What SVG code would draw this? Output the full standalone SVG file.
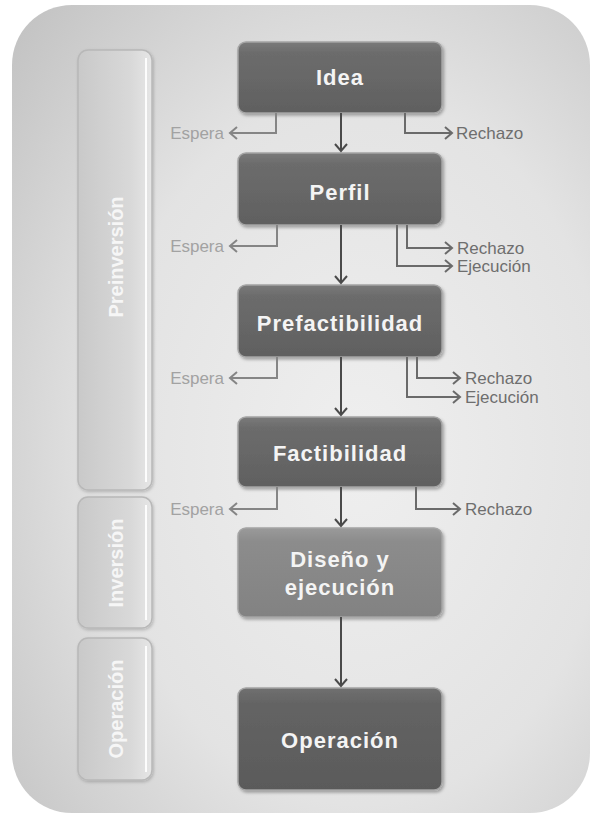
<svg xmlns="http://www.w3.org/2000/svg" width="592" height="820" viewBox="0 0 592 820">
  <style>
    .node-box { stroke: #a4a4a4; stroke-width: 1.5; filter: url(#shadow); }
    .node-text { font-family: "Liberation Sans", Arial, sans-serif; font-weight: bold; font-size: 22px; letter-spacing: 1px; fill: #f4f4f4; text-anchor: middle; }
    .phase-box { fill: url(#phaseGrad); stroke: #b8b8b8; stroke-width: 1.5; filter: url(#shadow2); }
    .phase-hl { fill: none; stroke: #ffffff; stroke-width: 2; opacity: 0.9; }
    .phase-text { font-family: "Liberation Sans", Arial, sans-serif; font-weight: bold; font-size: 20px; fill: #f6f6f6; text-anchor: middle; }
    .main { fill: none; stroke: #4a4a4a; stroke-width: 2; marker-end: url(#arrDark); }
    .side { fill: none; stroke: #6a6a6a; stroke-width: 2; marker-end: url(#arrMid); }
    .wait { fill: none; stroke: #858585; stroke-width: 2; marker-end: url(#arrLight); }
    .lbl { font-family: "Liberation Sans", Arial, sans-serif; font-size: 17px; fill: #6e6e6e; }
    .lbl-wait { font-family: "Liberation Sans", Arial, sans-serif; font-size: 17px; fill: #a2a2a2; text-anchor: end; }
  </style>
  <defs>
    <radialGradient id="bgGrad" cx="0.6" cy="0.55" r="0.8">
      <stop offset="0" stop-color="#efefef"/>
      <stop offset="0.55" stop-color="#e3e3e3"/>
      <stop offset="1" stop-color="#c2c2c2"/>
    </radialGradient>
    <linearGradient id="nodeGrad" x1="0" y1="0" x2="0" y2="1">
      <stop offset="0" stop-color="#7a7a7a"/>
      <stop offset="0.15" stop-color="#6c6c6c"/>
      <stop offset="1" stop-color="#606060"/>
    </linearGradient>
    <linearGradient id="nodeGradLight" x1="0" y1="0" x2="0" y2="1">
      <stop offset="0" stop-color="#9a9a9a"/>
      <stop offset="0.15" stop-color="#8c8c8c"/>
      <stop offset="1" stop-color="#828282"/>
    </linearGradient>
    <linearGradient id="nodeGradDark" x1="0" y1="0" x2="0" y2="1">
      <stop offset="0" stop-color="#707070"/>
      <stop offset="0.15" stop-color="#646464"/>
      <stop offset="1" stop-color="#5a5a5a"/>
    </linearGradient>
    <linearGradient id="phaseGrad" x1="0" y1="0" x2="1" y2="0">
      <stop offset="0" stop-color="#c9c9c9"/>
      <stop offset="0.7" stop-color="#d8d8d8"/>
      <stop offset="1" stop-color="#e6e6e6"/>
    </linearGradient>
    <filter id="shadow" x="-10%" y="-10%" width="125%" height="130%">
      <feDropShadow dx="1.5" dy="2" stdDeviation="1.5" flood-color="#000" flood-opacity="0.3"/>
    </filter>
    <filter id="shadow2" x="-10%" y="-5%" width="130%" height="115%">
      <feDropShadow dx="1" dy="1.5" stdDeviation="1.5" flood-color="#000" flood-opacity="0.2"/>
    </filter>
    <marker id="arrDark" markerUnits="userSpaceOnUse" markerWidth="16" markerHeight="16" viewBox="-10 -8 12 16" refX="0" refY="0" orient="auto">
      <path d="M-7,-6 L0,0 L-7,6" fill="none" stroke="#4a4a4a" stroke-width="2"/>
    </marker>
    <marker id="arrMid" markerUnits="userSpaceOnUse" markerWidth="16" markerHeight="16" viewBox="-10 -8 12 16" refX="0" refY="0" orient="auto">
      <path d="M-7,-6 L0,0 L-7,6" fill="none" stroke="#6a6a6a" stroke-width="2"/>
    </marker>
    <marker id="arrLight" markerUnits="userSpaceOnUse" markerWidth="16" markerHeight="16" viewBox="-10 -8 12 16" refX="0" refY="0" orient="auto">
      <path d="M-7,-6 L0,0 L-7,6" fill="none" stroke="#858585" stroke-width="2"/>
    </marker>
  </defs>

  <rect x="0" y="0" width="592" height="820" fill="#ffffff"/>
  <rect id="background" x="12" y="5" width="578" height="808" rx="60" ry="60" fill="url(#bgGrad)"/>

  <!-- Phase bars -->
  <g id="phase-preinversion">
    <rect class="phase-box" x="78" y="50" width="74" height="440" rx="10"/>
    <path class="phase-hl" d="M146,58 V482"/>
    <text class="phase-text" transform="translate(123,257) rotate(-90)">Preinversión</text>
  </g>
  <g id="phase-inversion">
    <rect class="phase-box" x="78" y="497" width="74" height="131" rx="10"/>
    <path class="phase-hl" d="M146,505 V620"/>
    <text class="phase-text" transform="translate(123,563) rotate(-90)">Inversión</text>
  </g>
  <g id="phase-operacion">
    <rect class="phase-box" x="78" y="638" width="74" height="142" rx="10"/>
    <path class="phase-hl" d="M146,646 V772"/>
    <text class="phase-text" transform="translate(123,709) rotate(-90)">Operación</text>
  </g>

  <!-- Nodes -->
  <g id="idea">
    <rect class="node-box" x="238" y="42" width="204" height="71" rx="8" fill="url(#nodeGrad)"/>
    <text class="node-text" x="340" y="85">Idea</text>
  </g>
  <g id="perfil">
    <rect class="node-box" x="238" y="153" width="204" height="72" rx="8" fill="url(#nodeGrad)"/>
    <text class="node-text" x="340" y="200">Perfil</text>
  </g>
  <g id="prefactibilidad">
    <rect class="node-box" x="238" y="285" width="204" height="72" rx="8" fill="url(#nodeGrad)"/>
    <text class="node-text" x="340" y="331">Prefactibilidad</text>
  </g>
  <g id="factibilidad">
    <rect class="node-box" x="238" y="417" width="204" height="70" rx="8" fill="url(#nodeGrad)"/>
    <text class="node-text" x="340" y="461">Factibilidad</text>
  </g>
  <g id="diseno">
    <rect class="node-box" x="238" y="528" width="204" height="89" rx="8" fill="url(#nodeGradLight)"/>
    <text class="node-text" x="340" y="567">Diseño y</text>
    <text class="node-text" x="340" y="595">ejecución</text>
  </g>
  <g id="operacion">
    <rect class="node-box" x="238" y="688" width="204" height="102" rx="8" fill="url(#nodeGradDark)"/>
    <text class="node-text" x="340" y="748">Operación</text>
  </g>

  <!-- Connectors -->
  <g id="connectors">
    <path class="main" d="M341,113 V151"/>
    <path class="wait" d="M276,113 V133 H230"/>
    <path class="side" d="M405,113 V133 H452"/>

    <path class="main" d="M341,225 V283"/>
    <path class="wait" d="M277,225 V246 H230"/>
    <path class="side" d="M407,225 V248 H452"/>
    <path class="side" d="M397,225 V266 H452"/>

    <path class="main" d="M341,357 V415"/>
    <path class="wait" d="M277,357 V378 H230"/>
    <path class="side" d="M417,357 V378 H460"/>
    <path class="side" d="M407,357 V397 H460"/>

    <path class="main" d="M341,487 V526"/>
    <path class="wait" d="M277,487 V509 H230"/>
    <path class="side" d="M416,487 V509 H460"/>

    <path class="main" d="M341,617 V686"/>
  </g>

  <!-- Connector labels -->
  <g id="labels">
    <text class="lbl-wait" x="224" y="139">Espera</text>
    <text class="lbl" x="456" y="139">Rechazo</text>

    <text class="lbl-wait" x="224" y="252">Espera</text>
    <text class="lbl" x="457" y="254">Rechazo</text>
    <text class="lbl" x="457" y="272">Ejecución</text>

    <text class="lbl-wait" x="224" y="384">Espera</text>
    <text class="lbl" x="465" y="384">Rechazo</text>
    <text class="lbl" x="465" y="403">Ejecución</text>

    <text class="lbl-wait" x="224" y="515">Espera</text>
    <text class="lbl" x="465" y="515">Rechazo</text>
  </g>
</svg>
